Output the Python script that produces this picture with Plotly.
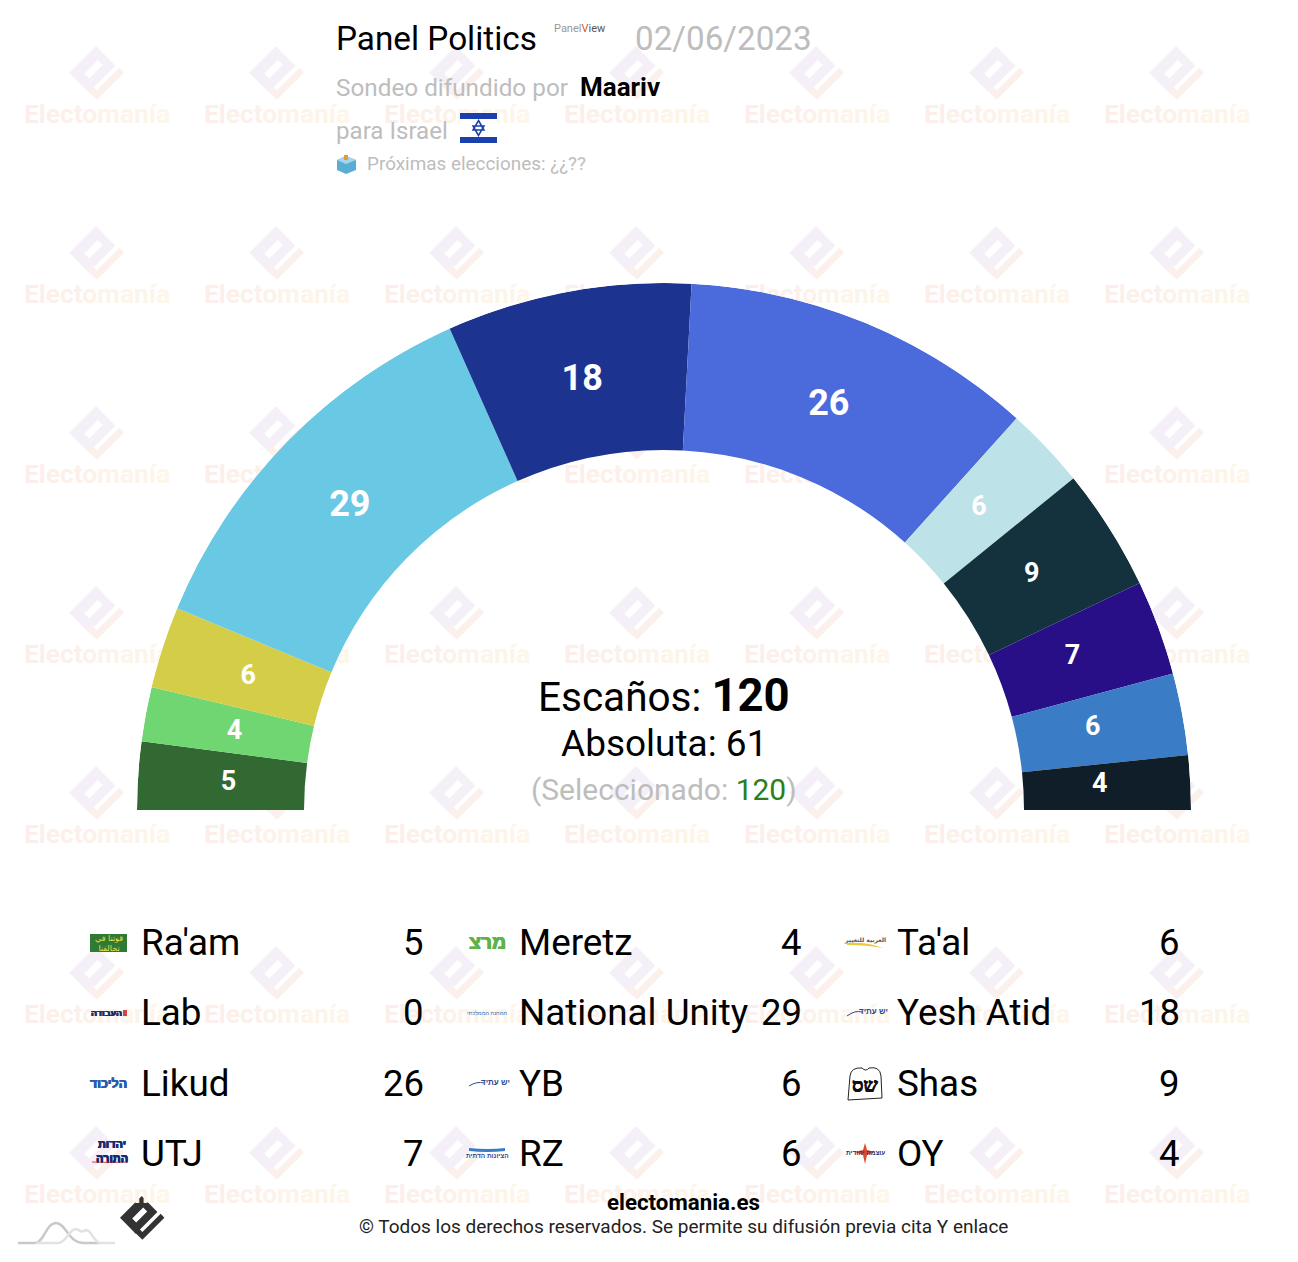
import plotly.graph_objects as go

W, H = 1298, 1262
FONT = "Roboto"

PARTIES = ["Ra'am", "Meretz", "Ta'al", "Lab", "National Unity", "Yesh Atid",
           "Likud", "YB", "Shas", "UTJ", "RZ", "OY"]
SEATS = [5, 4, 6, 0, 29, 18, 26, 6, 9, 7, 6, 4]
COLORS = ["#326832", "#6fd672", "#d4cd47", "#c8102e", "#69c9e5", "#1c338f",
          "#4b6adb", "#bde2e8", "#14323d", "#280f87", "#3a7cc5", "#101e29"]
LABEL_SIZES = [27, 27, 27, 27, 36, 36, 36, 27, 27, 27, 27, 27]
TOTAL_SEATS = 120
MAJORITY = 61
SELECTED = 120

DEG_PER_SEAT = 180 / TOTAL_SEATS
INNER = 360 / 527
LABEL_R = 0.828
LABEL_SHIFT = -0.3

theta, width = [], []
cum = 0
for s in SEATS:
    theta.append((cum + s / 2) * DEG_PER_SEAT)
    width.append(s * DEG_PER_SEAT)
    cum += s

fig = go.Figure()


def lerp_hex(a, b, t):
    ca = [int(a[i:i + 2], 16) for i in (1, 3, 5)]
    cb = [int(b[i:i + 2], 16) for i in (1, 3, 5)]
    return "#%02x%02x%02x" % tuple(round(x + (y - x) * t) for x, y in zip(ca, cb))


# ---- watermark (behind the polar layer) ----
WM = "Electomanía"
wm_text = "".join(
    f'<span style="color:{lerp_hex("#fceeeb", "#fdf6e9", i / (len(WM) - 1))}">{c}</span>'
    for i, c in enumerate(WM))
wm_cols = [97 + 180 * i for i in range(8)]
wm_rows = [114 + 180 * i for i in range(7)]
wx, wy = [], []
for r in wm_rows:
    for c in wm_cols:
        wx.append(c)
        wy.append(r + 2)
fig.add_trace(go.Scatter(
    x=wx, y=wy, mode="text", text=[wm_text] * len(wx), textposition="middle center",
    textfont=dict(family=FONT, size=26.3, color="#fceeeb", weight="bold"),
    hoverinfo="skip", showlegend=False, cliponaxis=False))


def poly(points, ox, oy, k):
    return "M" + " L".join(f"{ox + x * k:.1f},{oy + y * k:.1f}" for x, y in points) + " Z"


BODY = [(0, 0), (-21.7, 21.7), (-6, 37.7), (15.7, 16)]
SLOT = [(1.5, 11.5), (-9.5, 22.5), (-5.5, 26.5), (5.5, 15.5)]
STRIP = [(22.7, 21.7), (0.7, 43.7), (-7.3, 36), (-3.3, 32), (0.7, 36), (19, 17.7)]


def add_logo(ox, oy, k, body_col, strip_col):
    fig.add_shape(type="path", path=poly(BODY, ox, oy, k) + " " + poly(SLOT, ox, oy, k),
                  fillcolor=body_col, line_width=0, layer="below", xref="x", yref="y")
    fig.add_shape(type="path", path=poly(STRIP, ox, oy, k),
                  fillcolor=strip_col, line_width=0, layer="below", xref="x", yref="y")


for r in wm_rows:
    for c in wm_cols:
        add_logo(c - 1, r - 68, 1.23, "#f5f0f7", "#fcf0ec")

# ---- hemicycle ----
fig.add_trace(go.Barpolar(
    r=[1 - INNER] * len(SEATS), base=[INNER] * len(SEATS), theta=theta, width=width,
    marker=dict(color=COLORS, line=dict(width=0)), hoverinfo="skip",
    showlegend=False, subplot="polar"))
lab_idx = [i for i, s in enumerate(SEATS) if s > 0]
fig.add_trace(go.Scatterpolar(
    r=[LABEL_R] * len(lab_idx), theta=[theta[i] + LABEL_SHIFT for i in lab_idx], mode="text",
    text=[str(SEATS[i]) for i in lab_idx], textposition="middle center",
    textfont=dict(family=FONT, color="white", weight="bold",
                  size=[LABEL_SIZES[i] for i in lab_idx]),
    hoverinfo="skip", showlegend=False, subplot="polar"))


def txt(x, y, text, size, color="#000000", anchor="left", family=FONT, heavy=False):
    font = dict(family=family, size=size, color=color)
    if heavy:
        font["shadow"] = f"0.5px 0 0 {color}, -0.5px 0 0 {color}, 0 0.4px 0 {color}"
    fig.add_annotation(x=x, y=y, xref="x", yref="y", text=text, showarrow=False,
                       xanchor=anchor, yanchor="middle", align=anchor,
                       font=font, borderpad=0, borderwidth=0)


def path(d, fill="rgba(0,0,0,0)", line=None, lw=0):
    fig.add_shape(type="path", path=d, fillcolor=fill, xref="x", yref="y", layer="above",
                  line=dict(color=line or "rgba(0,0,0,0)", width=lw))


def rect(x0, y0, x1, y1, fill):
    fig.add_shape(type="rect", x0=x0, y0=y0, x1=x1, y1=y1, fillcolor=fill, line_width=0,
                  xref="x", yref="y", layer="above")


GREY = "#bdbdbd"
# ---- header ----
txt(336, 38, "Panel Politics", 33.3)
txt(554, 28, '<span style="color:#999999">Panel</span><span style="color:#d9541e">V</span>'
             '<span style="color:#555555">iew</span>', 11)
txt(635, 38, "02/06/2023", 33.2, GREY)
txt(336, 87, "Sondeo difundido por", 24.3, GREY)
txt(580, 87, "<b>Maariv</b>", 26)
txt(336, 131, "para Israel", 24.1, GREY)
# flag
rect(460, 113, 497, 143, "#ffffff")
rect(460, 113, 497, 119, "#1c3fae")
rect(460, 137, 497, 143, "#1c3fae")
path("M478.5,120.5 L484,130 L473,130 Z M478.5,135.5 L473,126 L484,126 Z", line="#1c3fae", lw=1.5)
# ballot box
path("M337,160 L346,156 L356,160 L356,170 L346,174 L337,170 Z", fill="#5aaed6")
path("M337,160 L346,156 L356,160 L346,164 Z", fill="#a4d6ec")
rect(344, 155, 348, 160, "#e79a3c")
txt(367, 163.5, "Próximas elecciones: ¿¿??", 18.9, GREY)

# ---- centre ----
txt(664, 695, f'Escaños: <b><span style="font-size:45.5px">{TOTAL_SEATS}</span></b>', 40.5, anchor="center")
txt(664, 743, f"Absoluta: {MAJORITY}", 37, anchor="center")
txt(663.5, 789, f'(Seleccionado: <span style="color:#2a7f1a">{SELECTED}</span>)', 30, GREY, anchor="center")

# ---- legend ----
COLS = [(108, 141, 424), (487, 519, 802), (865, 897, 1180)]
ROWS = [942.5, 1012.5, 1083.5, 1153.5]
for i, (name, seats) in enumerate(zip(PARTIES, SEATS)):
    lx, tx, sx = COLS[i % 3]
    y = ROWS[i // 3]
    txt(tx, y, name, 36.8)
    txt(sx, y, str(seats), 36.5, anchor="right")

HEB = "Liberation Sans"
ARA = "DejaVu Sans"
# Ra'am
rect(90, 934, 127, 952, "#2f7a34")
txt(108.5, 943, "قوتنا في<br>تحالفنا", 8, "#e8e24a", anchor="center", family=ARA)
# Meretz
txt(487, 942, "<b>מרצ</b>", 19.5, "#5cb34a", anchor="center", family=HEB, heavy=True)
# Labour
txt(106, 1013, "<b>העבודה</b>", 9, "#1d2f66", anchor="center", family=HEB, heavy=True)
rect(123, 1010, 127, 1016, "#d8433f")
# National Unity
txt(487, 1013, "המחנה הממלכתי", 5.5, "#2a6fb0", anchor="center", family=HEB)
# Yesh Atid
txt(873, 1011, "<b>יש עתיד</b>", 8, "#2b4a8f", anchor="center", family=HEB)
path("M847,1016 Q855,1010 862,1012", line="#2b4a8f", lw=1)
# Likud
txt(108.5, 1084, "<b>הליכוד</b>", 12.5, "#2a5bb0", anchor="center", family=HEB, heavy=True)
# YB
txt(495, 1082, "<b>יש עתיד</b>", 8, "#2b4a8f", anchor="center", family=HEB)
path("M469,1086 Q477,1081 484,1083", line="#2b4a8f", lw=1)
# Shas
path("M848,1100 L850,1076 Q851,1067 862,1068 Q866,1072 869,1068 Q880,1066 881,1076 L882,1098 Z",
     fill="#ffffff", line="#222222", lw=1)
txt(865, 1085, "<b>שס</b>", 20, "#111111", anchor="center", family="Liberation Serif", heavy=True)
# UTJ
txt(112, 1151, "<b>יהדות<br>התורה</b>", 11, "#1a2a6e", anchor="center", family=HEB, heavy=True)
path("M92,1162 Q110,1163 127,1162", line="#d8433f", lw=1)
# RZ
path("M469,1148 Q488,1150 505,1148 L505,1151 Q488,1153 469,1151 Z", fill="#3a7cc5")
txt(487, 1155, "<b>הציונות הדתית</b>", 6.5, "#1f4a8f", anchor="center", family=HEB)
# Ta'al
txt(865, 940, "<b>العربية للتغيير</b>", 6, "#555555", anchor="center", family=ARA)
path("M847,943 Q868,942 883,948 Q868,945 847,945 Z", fill="#ecc93a")
# OY
path("M865,1143 L867,1150 L875,1152 L867,1155 L865,1164 L863,1155 L855,1152 L863,1150 Z", fill="#dc4a32")
txt(865, 1152, "<b>עוצמה יהודית</b>", 6.5, "#1f2f6f", anchor="center", family=HEB)

# ---- footer ----
txt(683.5, 1202, "<b>electomania.es</b>", 22.3, anchor="center")
txt(683.5, 1226, "© Todos los derechos reservados. Se permite su difusión previa cita Y enlace", 19,
    "#222222", anchor="center")
path("M18,1243 L35,1243 C44,1243 46,1223 56,1223 C66,1223 68,1243 84,1243 L100,1243", line="#c9c9c9", lw=2.5)
path("M36,1243 L58,1243 C66,1243 70,1228 76,1229 C80,1230 81,1233 84,1231 C90,1226 94,1243 100,1243 L115,1243",
     line="#e2e2e2", lw=2.5)
add_logo(141.7, 1196, 1.0, "#333333", "#333333")

fig.update_layout(
    width=W, height=H, margin=dict(l=0, r=0, t=0, b=0),
    paper_bgcolor="white", plot_bgcolor="rgba(0,0,0,0)", showlegend=False,
    xaxis=dict(range=[0, W], visible=False, fixedrange=True),
    yaxis=dict(range=[H, 0], visible=False, fixedrange=True),
    polar=dict(
        domain=dict(x=[137 / W, 1191 / W], y=[1 - 810 / H, 1 - 283 / H]),
        sector=[0, 180], bgcolor="rgba(0,0,0,0)", hole=0,
        radialaxis=dict(range=[0, 1], visible=False),
        angularaxis=dict(rotation=180, direction="clockwise", visible=False, thetaunit="degrees"),
    ),
    barmode="overlay",
)
fig.write_html("out.html", config=dict(displayModeBar=False),
               post_script="document.body.style.margin='0';")
